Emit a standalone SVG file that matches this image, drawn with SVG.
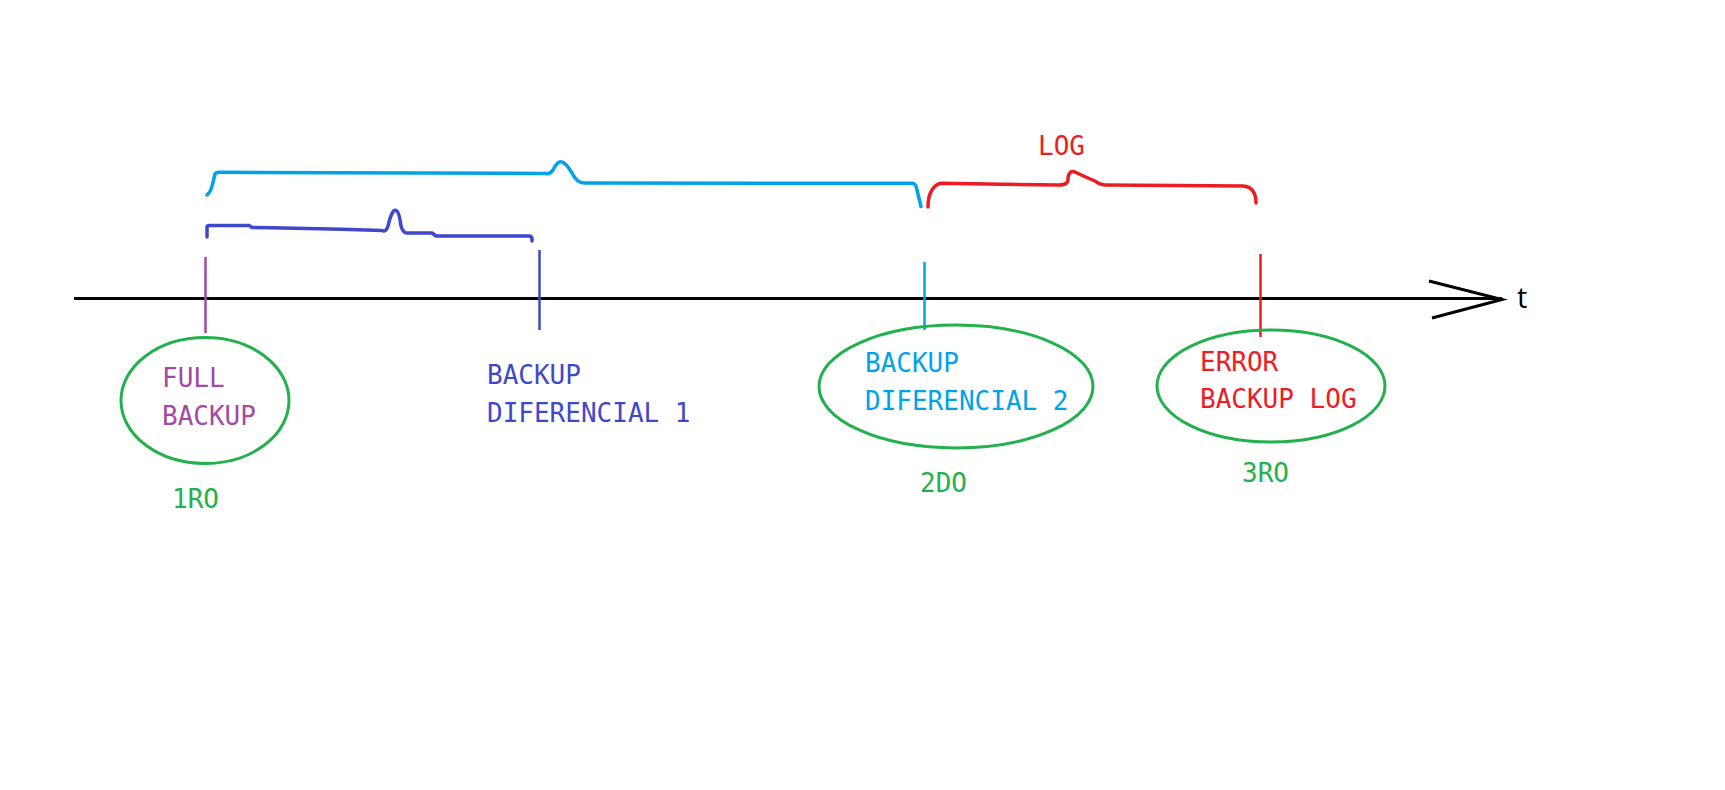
<svg xmlns="http://www.w3.org/2000/svg" width="1725" height="790" viewBox="0 0 1725 790">
<style>
.lbl{font-family:"DejaVu Sans Mono","Liberation Mono",monospace;font-size:26px}
.ell{fill:none;stroke:#22b14c;stroke-width:3}
.br{fill:none;stroke-width:3.5;stroke-linejoin:round;stroke-linecap:round}
.tick{stroke-width:2.5}
.purple{fill:#a349a4}.dblue{fill:#3f48cc}.lblue{fill:#00a2e8}.red{fill:#ed1c24}.green{fill:#22b14c}
</style>
<rect width="1725" height="790" fill="#ffffff"/>
<g id="axis">
<line x1="74" y1="298.5" x2="1502" y2="298.5" stroke="#000" stroke-width="3"/>
<polyline points="1429,281 1502,299.5 1432,318" fill="none" stroke="#000" stroke-width="3"/>
<text x="1517" y="308" font-family="'Open Sans','Noto Sans',sans-serif" font-size="29" fill="#000">t</text>
</g>
<g id="connectors">
<line class="tick" x1="205.5" y1="257" x2="205.5" y2="333" stroke="#a349a4"/>
<line class="tick" x1="539.5" y1="250" x2="539.5" y2="330" stroke="#3f48cc"/>
<line class="tick" x1="924.5" y1="262" x2="924.5" y2="330" stroke="#00a2e8"/>
<line class="tick" x1="1260.5" y1="254" x2="1260.5" y2="337" stroke="#ed1c24"/>
<path class="br" stroke="#3f48cc" d="M207,237 L207,227 Q207,225.5 210,225.5 L249,225.5 L252,227.5 L271,227.7 L342,229.3 L382,230.5 Q386,232.5 388,226 Q392,209 396,210.5 Q399,211 401,226 Q403,233 407,233 L432,233 L436,236 L529,236 Q532,236 532,239 L532,241"/>
<path class="br" stroke="#00a2e8" d="M207,195 Q211,192 212.8,183 L215,174 Q216,172.3 219,172.3 L546,173.5 Q550,174.5 553,170 Q558,160 562,162 Q566,163 572,173 Q577,183 584,183 L912,183.3 Q916,183.5 917,190 L921,206.5"/>
<path class="br" stroke="#ed1c24" d="M928,207 Q928,196 932,190 Q936,183.5 942,183.3 L1059,185 Q1069,185 1068,178 Q1069,170 1075,172 Q1083,176 1095,181 Q1100,185 1105,185 L1243,186 Q1256,187 1256,203"/>
</g>
<g id="node-full">
<ellipse class="ell" cx="205" cy="400.5" rx="84" ry="63"/>
<text class="lbl purple" x="162" y="386.5">FULL</text>
<text class="lbl purple" x="162" y="425">BACKUP</text>
<text class="lbl green" x="172" y="508">1RO</text>
</g>
<g id="node-dif1">
<text class="lbl dblue" x="487" y="383.5">BACKUP</text>
<text class="lbl dblue" x="487" y="422">DIFERENCIAL 1</text>
</g>
<g id="node-dif2">
<ellipse class="ell" cx="956" cy="386.5" rx="137" ry="61.5"/>
<text class="lbl lblue" x="865" y="371.5">BACKUP</text>
<text class="lbl lblue" x="865" y="410">DIFERENCIAL 2</text>
<text class="lbl green" x="920" y="492">2DO</text>
</g>
<g id="node-error">
<ellipse class="ell" cx="1271" cy="386" rx="114" ry="56"/>
<text class="lbl red" x="1200" y="371">ERROR</text>
<text class="lbl red" x="1200" y="408">BACKUP LOG</text>
<text class="lbl green" x="1242" y="482">3RO</text>
</g>
<g id="label-log">
<text class="lbl red" x="1038" y="155">LOG</text>
</g>
</svg>
